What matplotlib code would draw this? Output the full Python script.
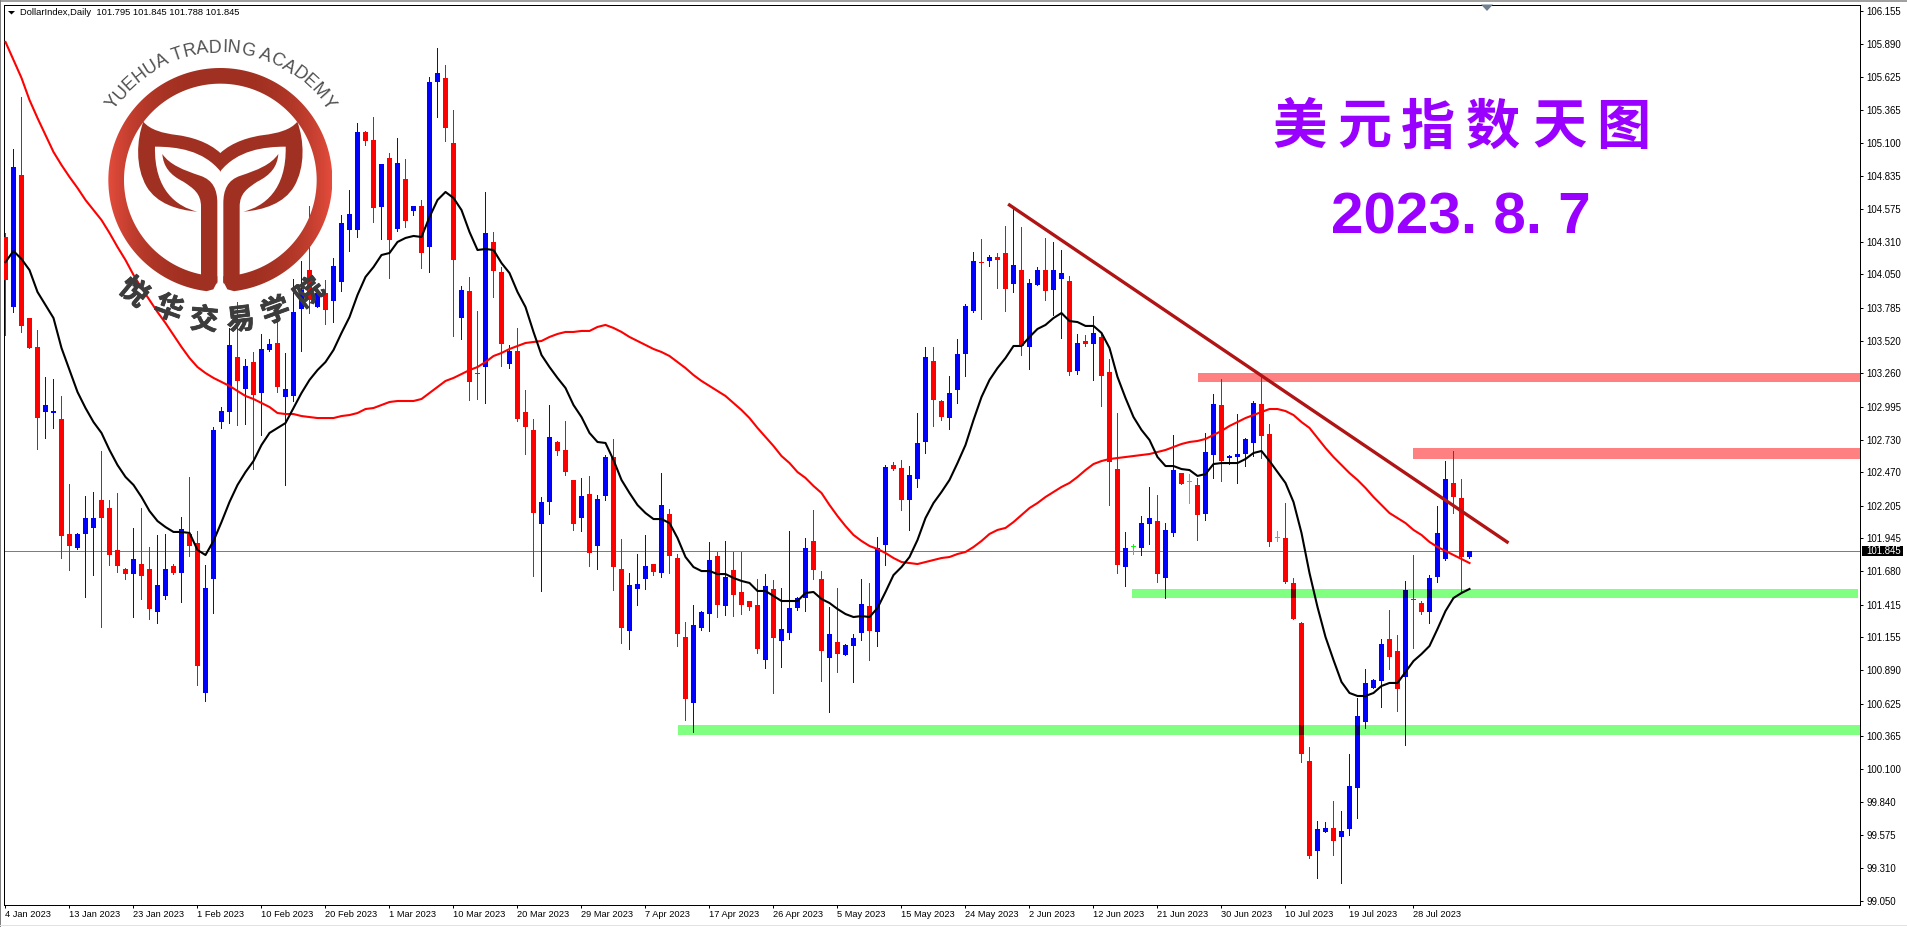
import numpy as np
import matplotlib
matplotlib.use("Agg")
import matplotlib.pyplot as plt
import matplotlib.patheffects as pe
from matplotlib.patches import Rectangle, Polygon, PathPatch
from matplotlib.path import Path
from matplotlib.textpath import TextPath
from matplotlib.font_manager import FontProperties

# ---------- data ----------
open_ = [
104.349,103.790,104.843,103.702,103.471,102.952,102.944,102.896,101.979,101.867,
101.979,102.027,102.250,102.186,101.851,101.699,101.659,101.739,101.699,101.356,
101.484,101.723,101.667,101.979,101.907,100.710,101.620,102.872,102.952,103.391,
103.136,103.351,103.104,103.447,103.503,103.072,103.080,103.774,104.085,103.790,
103.902,103.838,103.990,104.405,104.405,105.187,105.123,104.588,104.979,104.413,
104.812,104.556,104.596,104.269,105.586,105.618,105.099,103.702,103.918,103.257,
103.311,104.309,104.069,103.335,103.439,102.952,102.809,102.058,102.234,102.713,
102.649,102.410,102.106,102.298,101.883,102.282,102.593,101.699,101.205,101.540,
101.620,101.739,101.667,102.138,101.787,101.157,100.630,101.229,101.340,101.803,
101.404,101.691,101.516,101.444,101.412,100.973,101.540,101.125,101.189,101.388,
101.468,101.923,101.620,100.989,101.117,101.013,101.085,101.189,101.404,101.197,
101.891,102.529,102.505,102.250,102.418,102.713,103.359,103.040,102.904,103.128,
103.415,103.758,104.143,104.157,104.189,104.221,103.974,104.085,103.471,103.966,
104.085,103.926,104.014,103.998,103.279,103.519,103.495,103.551,103.271,102.497,
101.715,101.875,101.867,102.058,102.082,101.628,101.987,102.465,102.394,102.370,
102.138,102.609,103.008,102.585,102.593,102.617,102.705,103.016,102.777,101.947,
101.947,101.588,101.268,100.167,99.449,99.601,99.633,99.561,99.625,99.952,
100.478,100.750,100.806,101.141,101.045,100.838,101.454,101.428,101.356,101.636,
101.779,102.386,102.266,101.795]
close = [
104.006,104.907,103.639,103.463,102.904,103.008,102.960,101.963,101.883,101.979,
102.106,102.106,102.106,101.811,101.723,101.659,101.779,101.644,101.380,101.572,
101.699,101.667,102.019,101.883,100.925,101.548,102.809,102.960,103.487,103.200,
103.319,103.088,103.455,103.495,103.152,103.136,103.750,103.926,103.846,103.902,
103.766,104.117,104.460,104.532,105.187,105.115,104.580,104.931,104.325,104.939,
104.476,104.596,104.221,105.586,105.657,105.219,104.165,103.926,103.192,103.253,
104.381,104.077,103.495,103.439,102.896,102.833,102.146,102.234,102.753,102.641,
102.473,102.058,102.282,101.827,102.258,102.593,101.715,101.229,101.572,101.580,
101.723,101.675,102.210,101.803,101.181,100.662,101.252,101.356,101.771,101.412,
101.636,101.492,101.412,101.396,101.061,101.564,101.149,101.221,101.388,101.468,
101.867,101.691,101.045,101.181,101.021,101.093,101.149,101.420,101.205,101.867,
102.513,102.497,102.250,102.449,102.705,103.391,103.048,102.912,103.104,103.415,
103.798,104.157,104.139,104.189,104.165,103.934,104.125,103.479,103.982,104.085,
103.918,104.085,104.061,103.271,103.503,103.495,103.583,103.240,102.553,101.731,
101.867,101.875,102.066,102.106,101.659,102.011,102.489,102.378,102.394,102.130,
102.633,103.016,102.561,102.601,102.617,102.737,103.024,102.761,101.915,101.947,
101.596,101.300,100.223,99.409,99.625,99.633,99.529,99.609,99.968,100.526,
100.790,100.814,101.101,100.997,100.742,101.532,101.450,101.356,101.628,101.987,
102.418,102.274,101.795,101.845]
high = [
104.381,105.051,105.466,103.702,103.607,103.232,103.216,103.080,102.378,101.987,
102.282,102.314,102.641,102.250,102.306,101.707,102.027,102.186,101.875,101.971,
101.979,101.739,102.114,102.434,102.003,101.731,102.833,102.992,103.623,103.830,
103.375,103.431,103.575,103.535,103.726,103.423,104.014,104.157,104.596,103.926,
104.006,104.181,104.524,104.724,105.258,105.195,105.306,104.931,105.019,105.139,
104.971,104.596,104.644,105.626,105.857,105.721,105.362,103.958,104.030,103.758,
104.708,104.389,104.109,103.487,103.623,103.128,102.896,102.274,103.008,102.721,
102.880,102.410,102.426,102.442,102.290,102.609,102.737,101.939,101.667,101.819,
101.971,101.739,102.465,102.178,101.819,101.276,101.412,101.364,101.915,101.835,
101.923,101.835,101.835,101.444,101.620,101.659,101.612,101.548,102.003,101.476,
101.947,102.170,101.683,101.396,101.548,101.101,101.181,101.620,101.588,101.955,
102.529,102.553,102.569,102.521,102.944,103.471,103.471,103.048,103.240,103.535,
103.814,104.229,104.333,104.205,104.221,104.437,104.572,104.429,104.014,104.109,
104.341,104.309,104.245,104.038,103.575,103.567,103.718,103.583,103.375,102.944,
101.995,101.899,102.122,102.354,102.290,102.066,102.769,102.465,102.457,102.426,
102.785,103.096,103.216,102.609,102.936,102.745,103.040,103.247,102.856,102.003,
102.226,101.628,101.276,100.279,99.688,99.680,99.848,99.768,100.223,100.670,
100.901,100.822,101.141,101.372,101.173,101.604,101.811,101.444,101.651,102.202,
102.561,102.641,102.418,101.845]
low = [
103.567,103.750,103.591,103.463,102.657,102.745,102.825,101.787,101.691,101.859,
101.476,101.651,101.237,101.731,101.675,101.620,101.316,101.460,101.300,101.268,
101.460,101.659,101.436,101.803,100.774,100.646,101.348,102.825,102.864,102.848,
102.856,102.497,102.769,103.439,103.112,102.370,103.040,103.439,103.742,103.790,
103.654,103.670,103.918,104.237,104.349,105.083,104.468,104.333,104.022,104.397,
104.429,104.524,104.101,104.069,105.306,105.115,103.559,103.535,103.048,103.056,
103.024,103.870,103.319,103.303,102.880,102.617,101.644,101.524,102.138,102.609,
102.449,102.011,102.003,101.723,101.699,102.250,101.532,101.109,101.061,101.412,
101.540,101.651,101.636,101.667,101.085,100.494,100.399,101.213,101.205,101.316,
101.332,101.324,101.340,101.372,101.029,100.909,100.710,100.917,101.141,101.372,
101.364,101.620,100.806,100.558,100.877,101.013,100.798,101.133,100.973,101.085,
101.731,102.489,102.170,102.011,102.354,102.625,102.841,102.888,102.817,103.024,
103.240,103.750,103.694,104.117,103.942,103.758,103.910,103.407,103.295,103.966,
103.846,103.726,103.543,103.247,103.255,103.479,103.208,103.000,102.210,101.667,
101.564,101.819,101.811,101.899,101.596,101.468,101.963,102.378,102.226,101.931,
102.090,102.426,102.402,102.537,102.386,102.521,102.601,102.585,101.883,101.923,
101.588,101.300,100.159,99.393,99.234,99.601,99.417,99.194,99.577,99.712,
100.431,100.750,100.598,100.901,100.566,100.295,101.069,101.340,101.268,101.596,
101.771,102.146,101.524,101.788]
ma_black = [
104.149,104.237,104.173,104.085,103.910,103.806,103.702,103.463,103.287,103.112,
102.984,102.872,102.785,102.649,102.529,102.434,102.370,102.274,102.162,102.082,
102.034,101.995,101.995,101.987,101.851,101.811,101.923,102.074,102.234,102.370,
102.473,102.561,102.689,102.785,102.825,102.864,102.984,103.104,103.208,103.287,
103.351,103.447,103.583,103.710,103.886,104.030,104.109,104.205,104.221,104.309,
104.341,104.357,104.349,104.508,104.644,104.708,104.660,104.564,104.389,104.245,
104.253,104.245,104.141,104.061,103.910,103.790,103.591,103.407,103.311,103.224,
103.144,103.008,102.912,102.785,102.713,102.705,102.569,102.410,102.306,102.210,
102.146,102.098,102.098,102.066,101.947,101.795,101.715,101.683,101.683,101.659,
101.659,101.628,101.604,101.588,101.524,101.524,101.484,101.444,101.444,101.444,
101.508,101.516,101.460,101.428,101.380,101.340,101.316,101.324,101.316,101.388,
101.516,101.651,101.715,101.795,101.931,102.106,102.226,102.314,102.410,102.545,
102.689,102.888,103.072,103.208,103.303,103.383,103.479,103.479,103.551,103.615,
103.647,103.702,103.742,103.678,103.670,103.639,103.639,103.583,103.463,103.232,
103.064,102.912,102.809,102.729,102.593,102.521,102.521,102.497,102.489,102.442,
102.457,102.537,102.545,102.545,102.545,102.577,102.625,102.641,102.561,102.473,
102.386,102.234,101.987,101.667,101.396,101.157,100.973,100.798,100.710,100.686,
100.686,100.710,100.766,100.790,100.790,100.877,100.965,101.021,101.085,101.221,
101.364,101.468,101.508,101.540]
ma_red = [
105.905,105.761,105.618,105.442,105.298,105.163,105.027,104.923,104.828,104.740,
104.644,104.564,104.484,104.381,104.269,104.165,104.046,103.942,103.846,103.750,
103.662,103.567,103.471,103.383,103.311,103.263,103.224,103.192,103.160,103.120,
103.080,103.056,103.024,102.992,102.944,102.936,102.936,102.920,102.912,102.904,
102.904,102.904,102.920,102.928,102.944,102.976,102.984,103.008,103.032,103.040,
103.040,103.040,103.056,103.104,103.152,103.200,103.224,103.255,103.287,103.311,
103.351,103.399,103.423,103.455,103.479,103.503,103.511,103.519,103.551,103.575,
103.591,103.591,103.599,103.599,103.631,103.647,103.623,103.591,103.551,103.519,
103.487,103.455,103.431,103.399,103.351,103.303,103.247,103.200,103.160,103.120,
103.080,103.024,102.968,102.904,102.825,102.753,102.681,102.601,102.545,102.473,
102.426,102.362,102.306,102.210,102.122,102.042,101.971,101.923,101.883,101.859,
101.827,101.787,101.755,101.747,101.739,101.755,101.771,101.787,101.795,101.819,
101.835,101.875,101.923,101.979,102.011,102.027,102.074,102.130,102.186,102.226,
102.274,102.314,102.354,102.386,102.434,102.489,102.537,102.561,102.577,102.585,
102.593,102.601,102.609,102.617,102.633,102.649,102.673,102.697,102.713,102.721,
102.737,102.769,102.801,102.841,102.872,102.904,102.928,102.952,102.976,102.976,
102.960,102.928,102.872,102.825,102.745,102.665,102.593,102.529,102.465,102.410,
102.346,102.274,102.210,102.146,102.106,102.066,102.011,101.971,101.915,101.875,
101.843,101.811,101.779,101.747]
assert all(len(a) == 184 for a in (open_, close, high, low, ma_black, ma_red))

date_labels = ["4 Jan 2023","13 Jan 2023","23 Jan 2023","1 Feb 2023","10 Feb 2023","20 Feb 2023",
               "1 Mar 2023","10 Mar 2023","20 Mar 2023","29 Mar 2023","7 Apr 2023","17 Apr 2023",
               "26 Apr 2023","5 May 2023","15 May 2023","24 May 2023","2 Jun 2023","12 Jun 2023",
               "21 Jun 2023","30 Jun 2023","10 Jul 2023","19 Jul 2023","28 Jul 2023"]
price_ticks = [106.155,105.890,105.625,105.365,105.100,104.835,104.575,104.310,104.050,103.785,
               103.520,103.260,102.995,102.730,102.470,102.205,101.945,101.680,101.415,101.155,
               100.890,100.625,100.365,100.100,99.840,99.575,99.310,99.050]
# resistance (pink) and support (green) zones: bar where they start, low, high
pink_zones = [(149.1, 103.192, 103.263), (176.0, 102.577, 102.665)]
green_zones = [(140.8, 101.468, 101.540, 231.6), (84.1, 100.375, 100.455, 231.9)]
trend_x = [125.5, 187.7]
trend_y = [104.604, 101.915]
title_cn = "美元指数天图"
title_date = "2023. 8. 7"
header = "DollarIndex,Daily  101.795 101.845 101.788 101.845"

# ---------- figure ----------
W, H = 1908, 927
plt.rcParams['font.family'] = ['Liberation Sans', 'DejaVu Sans']
fig = plt.figure(figsize=(W/100, H/100), dpi=100, facecolor='white')
L, R, T, B = 4.5, 1860.5, 4.5, 904.5
ax = fig.add_axes([L/W, 1-B/H, (R-L)/W, (B-T)/H])
ax.set_xlim((L-5.5)/8, (R-5.5)/8)
ax.set_ylim(106.24-0.00798*B, 106.24-0.00798*T)

o, c, h, l = map(np.array, (open_, close, high, low))
x = np.arange(len(o))
colors = np.where(c > o, '#0000FF', np.where(c < o, '#FF0000', '#00FF00'))
pxy = 0.00798

# zones
for x0, lo, hi in pink_zones:
    ax.add_patch(Rectangle((x0, lo), ax.get_xlim()[1]-x0, hi-lo, fc='#FF8080', ec='none', zorder=1))
for x0, lo, hi, x1 in green_zones:
    ax.add_patch(Rectangle((x0, lo), x1-x0, hi-lo, fc='#80FF80', ec='none', zorder=1))

ax.axhline(close[-1], color='#708090', lw=0.72, zorder=1.5, antialiased=False)

# candles
wk = ax.vlines(x, l, h, colors=list(colors), lw=0.72, zorder=2)
wk.set_antialiased(False)
top = np.maximum(o, c)
bot = np.minimum(o, c)
ax.bar(x, np.maximum(top-bot, pxy), bottom=bot, width=5/8, color=list(colors), lw=0, zorder=3, antialiased=False)

# bodies darken where they cross the green zones
dark = {'#0000FF': '#000080', '#FF0000': '#800000', '#00FF00': '#008000'}
for x0, lo, hi, x1 in green_zones:
    yb = np.maximum(bot, lo)
    yt = np.minimum(top, hi)
    m = (yt > yb) & (x >= x0)
    ax.bar(x[m], (yt-yb)[m], bottom=yb[m], width=5/8, color=[dark[k] for k in colors[m]],
           lw=0, zorder=3.2, antialiased=False)

# moving averages and trend line
ax.plot(x, ma_red, color='#FF0000', lw=1.5, zorder=4, solid_joinstyle='round')
ax.plot(x, ma_black, color='#000000', lw=1.5, zorder=4.1, solid_joinstyle='round')
ax.plot(trend_x, trend_y, color='#B01414', lw=2.4, zorder=5)

# axes
for s in ax.spines.values():
    s.set_linewidth(0.72)
    s.set_color('black')
ax.yaxis.tick_right()
ax.set_yticks(price_ticks)
ax.set_yticklabels([f"{v:.3f}" for v in price_ticks])
ax.set_xticks(np.arange(0, 184, 8))
ax.set_xticklabels(date_labels, ha='left')
ax.tick_params(axis='both', length=2.2, width=0.72, color='black', labelcolor='black')
ax.tick_params(axis='x', pad=2, labelsize=6.7)
ax.tick_params(axis='y', pad=2, labelsize=6.9)

# current price tag
tag_x0 = (1862-5.5)/8
tag_x1 = (1903-5.5)/8
ax.add_patch(Rectangle((tag_x0, close[-1]-5*pxy), tag_x1-tag_x0, 10*pxy, fc='black', ec='none',
                       clip_on=False, zorder=6))
ax.text((1866-5.5)/8, close[-1], f"{close[-1]:.3f}", color='white', fontsize=6.9, va='center',
        ha='left', clip_on=False, zorder=7)

# ---------- overlay in screen pixels ----------
ov = fig.add_axes([0, 0, 1, 1], facecolor='none')
ov.set_axis_off()

# window edges
ov.add_patch(Rectangle((0, 0), W, 1.5, fc='#A0A0A0', ec='none'))
ov.add_patch(Rectangle((0, 0), 1.5, H, fc='#808080', ec='none'))
ov.add_patch(Rectangle((0, 924.5), W, 1.2, fc='#E2E2E2', ec='none'))

ov.add_patch(Polygon([(8, 11), (15, 11), (11.5, 14.5)], fc='black', ec='none'))
ov.add_patch(Polygon([(1481, 4.5), (1493, 4.5), (1487, 11)], fc='#708090', ec='none'))
ov.text(20, 12.5, header, fontsize=6.75, va='center', ha='left', color='black')

# title
for ch, cx_ in zip(title_cn, [1299, 1364, 1428, 1493, 1559, 1623]):
    ov.text(cx_, 128, ch, fontsize=39, color='#9900FF', ha='center', va='center', fontweight='bold',
            family=['Noto Sans CJK SC', 'DejaVu Sans'])
ov.text(1331, 233, title_date, fontsize=42, color='#9900FF', ha='left', va='baseline',
        fontweight='bold', family='Liberation Sans')

# logo: coordinates measured at 3x, centre of the circle at (661, 540)
CX, CY = 661, 540
Ro, Ri = 336, 289
phi0 = np.arcsin(41/Ro)
phi1 = np.arcsin(9/Ri)
po = np.linspace(phi0, 2*np.pi-phi0, 300)
pi_ = np.linspace(2*np.pi-phi1, phi1, 300)
ring = np.vstack([
    np.c_[CX+Ro*np.sin(po), CY+Ro*np.cos(po)],
    [(640, 868), (652, 845)],
    np.c_[CX+Ri*np.sin(pi_), CY+Ri*np.cos(pi_)],
    [(670, 845), (682, 868)],
]) / 3
ring_patch = Polygon(ring, closed=True, fc='none', ec='none', transform=ov.transData)
ov.add_patch(ring_patch)
dark_c = np.array([160, 48, 33])/255
bright_c = np.array([228, 76, 60])/255
t = np.abs(np.linspace(-1, 1, 256))**3
grad = (dark_c[None, :]*(1-t[:, None]) + bright_c[None, :]*t[:, None])[None, :, :]
im = ov.imshow(grad, extent=[(CX-Ro)/3, (CX+Ro)/3, (CY+Ro)/3, (CY-Ro)/3], aspect='auto', zorder=8)
im.set_clip_path(ring_patch)

def half(segments, mirror):
    verts, codes = [], []
    for i, seg in enumerate(segments):
        if i == 0:
            verts.append(seg); codes.append(Path.MOVETO)
        elif len(seg) == 3:
            verts.extend(seg); codes.extend([Path.CURVE4]*3)
        else:
            verts.append(seg[0]); codes.append(Path.LINETO)
    verts.append(segments[0]); codes.append(Path.CLOSEPOLY)
    v = np.array(verts, float)
    if mirror:
        v[:, 0] = 2*CX - v[:, 0]
    return Path(v/3, codes)

band = [(662, 460),
        ((625, 425), (570, 410), (530, 405)),
        ((490, 400), (450, 390), (430, 365)),
        ((410, 420), (405, 500), (440, 560)),
        ((470, 610), (530, 630), (592, 635)),
        ((530, 620), (462, 570), (465, 440)),
        ((530, 440), (610, 450), (662, 515))]
stem = [(487, 462),
        ((510, 495), (550, 510), (600, 527)),
        ((640, 540), (652, 570), (652, 610)),
        ((652, 850),),
        ((603, 850),),
        ((603, 620),),
        ((603, 580), (580, 565), (550, 545)),
        ((510, 525), (490, 500), (487, 462))]
for seg in (band, stem):
    for mir in (False, True):
        ov.add_patch(PathPatch(half(seg, mir), fc='#A03021', ec='none', zorder=8.1))

# curved lettering round the logo
arc_text = "YUEHUA TRADING ACADEMY"
fp = FontProperties(family='Liberation Sans')
sz_pt = 12.9
sz_px = sz_pt*100/72
base = TextPath((0, 0), "HH", size=sz_px, prop=fp).get_extents().width
adv = [TextPath((0, 0), "H"+ch+"H", size=sz_px, prop=fp).get_extents().width-base for ch in arc_text]
pos = np.cumsum(adv) - np.array(adv)/2
pos = pos - (pos[0]+pos[-1])/2
rad = 383/3
for ch, s in zip(arc_text, pos):
    th = s/rad
    ov.text(CX/3+rad*np.sin(th), CY/3-rad*np.cos(th), ch, fontsize=sz_pt, color='#505050', ha='center',
            va='baseline', rotation=-np.degrees(th), rotation_mode='anchor', family='Liberation Sans', zorder=9)

for ch, zx, zy, rot in zip("悦华交易学院", [400, 505, 612, 722, 828, 930], [878, 928, 962, 962, 935, 880],
                           [-40, -20, -5, 7, 20, 38]):
    ov.text(zx/3, zy/3, ch, fontsize=20.5, color='#3C3C3C', fontweight='bold', ha='center', va='center',
            rotation=rot, rotation_mode='anchor', family=['Noto Sans CJK SC', 'DejaVu Sans'], zorder=9,
            path_effects=[pe.withStroke(linewidth=0.6, foreground='#3C3C3C')])

ov.set_xlim(0, W)
ov.set_ylim(H, 0)
fig.savefig('out.png', dpi=100, facecolor='white')
